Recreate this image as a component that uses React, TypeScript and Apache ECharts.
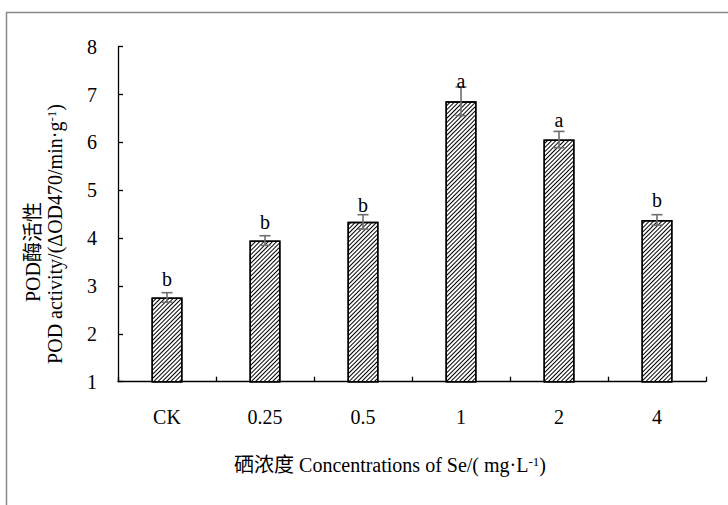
import React, { useEffect, useRef } from "react";
import * as echarts from "echarts";

const categories = ["CK", "0.25", "0.5", "1", "2", "4"];
const podValues = [2.76, 3.95, 4.34, 6.86, 6.06, 4.38];
const podErrors = [0.1, 0.1, 0.15, 0.3, 0.17, 0.11];
const sigLetters = ["b", "b", "b", "a", "a", "b"];
const letterHeights = [3.15, 4.34, 4.69, 7.28, 6.47, 4.8];
const yMin = 1;
const yMax = 8;
const yInterval = 1;

const FONT = "Liberation Serif, Noto Sans CJK SC, serif";

export default function App() {
  const ref = useRef<HTMLDivElement>(null);
  useEffect(() => {
    if (!ref.current) return;
    const chart = echarts.init(ref.current, undefined, { renderer: "svg" });
    const textBase = { fontFamily: FONT, fontSize: 20, fill: "#000" };
    chart.setOption({
      animation: false,
      backgroundColor: "#fff",
      grid: { left: 118, right: 22, top: 46.7, bottom: 123.3, containLabel: false },
      xAxis: {
        type: "category",
        data: categories,
        boundaryGap: true,
        axisLine: { lineStyle: { color: "#000", width: 1.3 } },
        axisTick: { show: true, inside: true, length: 5, alignWithLabel: false, lineStyle: { color: "#000", width: 1.3 } },
        axisLabel: { color: "#000", fontFamily: FONT, fontSize: 20, margin: 25 },
        splitLine: { show: false },
      },
      yAxis: {
        type: "value",
        min: yMin,
        max: yMax,
        interval: yInterval,
        axisLine: { show: true, lineStyle: { color: "#000", width: 1.3 } },
        axisTick: { show: true, inside: true, length: 5, lineStyle: { color: "#000", width: 1.3 } },
        axisLabel: { color: "#000", fontFamily: FONT, fontSize: 20, margin: 21 },
        splitLine: { show: false },
      },
      series: [
        {
          type: "bar",
          data: podValues,
          barWidth: 31,
          itemStyle: {
            color: "#fff",
            borderColor: "#000",
            borderWidth: 1.5,
            decal: {
              symbol: "rect",
              symbolSize: 1,
              dashArrayX: [[1, 0]],
              dashArrayY: [1, 2],
              rotation: -Math.PI / 4,
              color: "#000",
              backgroundColor: "#fff",
            },
          },
        },
        {
          type: "custom",
          data: categories.map((_, i) => [i, podValues[i], podErrors[i]]),
          encode: { x: 0, y: 1 },
          z: 5,
          renderItem: (params: any, api: any) => {
            const x = api.value(0);
            const v = api.value(1);
            const e = api.value(2);
            const hi = api.coord([x, v + e]);
            const lo = api.coord([x, v - e]);
            const hw = 5.5;
            const st = { stroke: "#6e6e6e", lineWidth: 1.6 };
            return {
              type: "group",
              children: [
                { type: "line", shape: { x1: hi[0], y1: hi[1], x2: lo[0], y2: lo[1] }, style: st },
                { type: "line", shape: { x1: hi[0] - hw, y1: hi[1], x2: hi[0] + hw, y2: hi[1] }, style: st },
                { type: "line", shape: { x1: lo[0] - hw, y1: lo[1], x2: lo[0] + hw, y2: lo[1] }, style: st },
              ],
            };
          },
        },
        {
          type: "custom",
          data: categories.map((_, i) => [i, letterHeights[i]]),
          encode: { x: 0, y: 1 },
          z: 6,
          renderItem: (params: any, api: any) => {
            const p = api.coord([api.value(0), api.value(1)]);
            return {
              type: "text",
              x: p[0],
              y: p[1],
              style: {
                text: sigLetters[params.dataIndex],
                fontFamily: FONT,
                fontSize: 20,
                fill: "#000",
                align: "center",
                verticalAlign: "middle",
              },
            };
          },
        },
      ],
      graphic: [
        {
          type: "rect",
          shape: { x: 6.5, y: 12.5, width: 760, height: 540 },
          style: { fill: "none", stroke: "#8a8a8a", lineWidth: 1.5 },
          silent: true,
        },
        {
          type: "text",
          x: 390,
          y: 465,
          style: {
            text: "{n|硒浓度 Concentrations of Se/( mg·L}{s|-1}{n|)}",
            rich: {
              n: { ...textBase },
              s: { fontFamily: FONT, fontSize: 13, fill: "#000", verticalAlign: "top" },
            },
            fontFamily: FONT,
            fontSize: 20,
            align: "center",
            verticalAlign: "middle",
          },
        },
        {
          type: "text",
          x: 33,
          y: 252,
          rotation: Math.PI / 2,
          style: {
            text: "POD酶活性",
            ...textBase,
            align: "center",
            verticalAlign: "middle",
          },
        },
        {
          type: "text",
          x: 55,
          y: 234,
          rotation: Math.PI / 2,
          style: {
            text: "{n|POD activity/(ΔOD470/min·g}{s|-1}{n|)}",
            rich: {
              n: { ...textBase },
              s: { fontFamily: FONT, fontSize: 13, fill: "#000", verticalAlign: "top" },
            },
            fontFamily: FONT,
            fontSize: 20,
            align: "center",
            verticalAlign: "middle",
          },
        },
      ],
    });
    return () => chart.dispose();
  }, []);
  return (
    <div
      ref={ref}
      style={{ position: "fixed", left: 0, top: 0, width: 728, height: 505 }}
    />
  );
}
